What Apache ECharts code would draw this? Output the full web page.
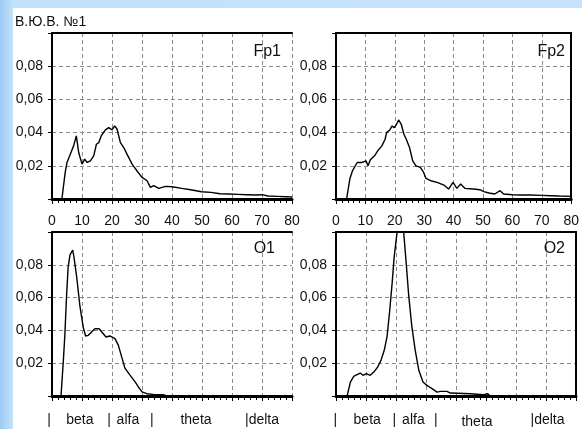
<!DOCTYPE html>
<html>
<head>
<meta charset="utf-8">
<script src="https://cdn.jsdelivr.net/npm/echarts@6/dist/echarts.min.js"></script>
<style>
  html, body { margin: 0; padding: 0; }
  #wrap { position: relative; width: 582px; height: 429px; overflow: hidden;
          background: linear-gradient(90deg, #9ccbf4 0px, #c3e1fa 13px, #c6e3fb 100%); }
  #panel { position: absolute; left: 13px; top: 8px; right: 0; bottom: 0; background: #ffffff; }
  #chart { position: absolute; left: 0; top: 0; width: 582px; height: 429px; }
</style>
</head>
<body>
<div id="wrap"><div id="panel"></div><div id="chart"></div></div>
<script>
// ---- data ----
const mainTitle = 'В.Ю.В. №1';
const channelNames = ['Fp1', 'Fp2', 'O1', 'O2'];
const xTickMin = 0, xTickMax = 80, xTickStep = 10;
const yTickMin = 0, yTickMax = 0.1, yTickStep = 0.02;

const fp1 = [[3.3,0],[4.4,0.016],[5,0.022],[6.1,0.027],[7.2,0.032],[8.1,0.038],[8.9,0.028],[10,0.021],[10.9,0.024],[11.7,0.022],[12.8,0.023],[13.9,0.026],[14.8,0.033],[15.6,0.034],[16.4,0.038],[17.8,0.0416],[18.9,0.043],[20,0.0416],[20.9,0.044],[21.7,0.042],[22.8,0.034],[23.9,0.031],[25,0.027],[26.7,0.021],[28.3,0.017],[30,0.013],[31.7,0.011],[32.8,0.007],[33.9,0.008],[35.6,0.0064],[37.8,0.0076],[40,0.0074],[43.3,0.0064],[46.7,0.0054],[49.8,0.0044],[53,0.004],[56,0.0032],[59,0.003],[62,0.0028],[65,0.0026],[68,0.0024],[70,0.0026],[72,0.0018],[75,0.0016],[78,0.0014],[80,0.0012]];

const fp2 = [[3.6,0],[4.7,0.012],[5.6,0.017],[7.2,0.022],[8.9,0.022],[10.2,0.023],[10.9,0.020],[11.7,0.0236],[13.1,0.026],[14.2,0.029],[15.6,0.032],[16.7,0.036],[17.2,0.040],[18.3,0.0416],[19.1,0.044],[19.8,0.043],[20.6,0.045],[21.3,0.0476],[22.2,0.045],[23.1,0.039],[23.9,0.036],[25,0.031],[26.1,0.023],[27.2,0.020],[28.7,0.019],[29.8,0.016],[30.6,0.0124],[32.2,0.011],[34.4,0.010],[36.7,0.0084],[38.3,0.006],[39.8,0.010],[41.1,0.0064],[42.4,0.009],[43.9,0.0064],[46.7,0.006],[48.9,0.0056],[50.3,0.0044],[52,0.0036],[54,0.003],[55.8,0.005],[57,0.003],[60,0.0026],[63,0.0024],[66,0.0024],[70,0.0022],[73,0.002],[76,0.0018],[80,0.0016]];

const o1 = [[3,0],[3.8,0.022],[4.3,0.038],[4.9,0.063],[5.4,0.079],[6,0.086],[6.9,0.089],[7.3,0.085],[8.2,0.073],[9.3,0.055],[10.4,0.042],[11.2,0.0366],[12.1,0.037],[13.2,0.039],[14.3,0.041],[15.7,0.041],[16.6,0.039],[18,0.036],[19.3,0.0366],[21,0.035],[22.1,0.031],[23.2,0.024],[24.3,0.017],[26,0.0127],[27.7,0.0086],[28.8,0.0055],[30,0.0025],[31.6,0.0014],[33.8,0.001],[37.1,0.0008],[38.2,0],[80,0]];

const o2 = [[3.7,0],[4.8,0.0085],[5.9,0.012],[7,0.013],[8.1,0.014],[9,0.0126],[10.1,0.0136],[11.4,0.0126],[12.6,0.0146],[13.9,0.0177],[15,0.0217],[16.1,0.028],[17,0.036],[17.9,0.052],[18.7,0.0685],[19.4,0.085],[20.3,0.099],[21.4,0.112],[22.6,0.099],[23.4,0.081],[24.2,0.062],[25.3,0.042],[26.4,0.028],[27.6,0.0157],[29,0.0085],[30.3,0.0065],[32,0.0045],[33.7,0.0024],[34.8,0.0028],[37,0.0028],[38.1,0.0018],[44.8,0.0014],[49.2,0.0008],[50.6,0.0014],[51.4,0],[80,0]];

// band annotations under the lower panels (text, position on the frequency axis, vertical offset)
const bandTextsO1 = [['|', -1, 0], ['beta', 9.3, 0], ['|', 19, 0], ['alfa', 25.3, 0], ['|', 33.3, 0], ['theta', 48, 0], ['|delta', 70, 0]];
const bandTextsO2 = [['|', -0.2, 0], ['beta', 10.4, 0], ['|', 19.4, 0], ['alfa', 25.8, 0], ['|', 33.3, 0], ['theta', 47, 2], ['|delta', 70.5, 0]];

// ---- layout ----
const FONT = '"Liberation Sans", Arial, sans-serif';
const panels = [
  { data: fp1, name: channelNames[0], grid: { left: 52, top: 33, width: 240, height: 166 }, xLabels: true,  rightBorder: false, nameRight: 301, nameTop: 44 },
  { data: fp2, name: channelNames[1], grid: { left: 336, top: 33, width: 240, height: 166 }, xLabels: true,  rightBorder: true,  nameRight: 17,  nameTop: 44 },
  { data: o1,  name: channelNames[2], grid: { left: 52, top: 232, width: 240, height: 164 }, xLabels: false, rightBorder: false, nameRight: 307, nameTop: 241 },
  { data: o2,  name: channelNames[3], grid: { left: 336, top: 232, width: 240, height: 164 }, xLabels: false, rightBorder: true,  nameRight: 17,  nameTop: 241 }
];

const dashStyle = { color: '#8a8a8a', width: 1, type: [4, 3] };
const grids = [], xAxes = [], yAxes = [], series = [], titles = [];

titles.push({ text: mainTitle, left: 15, top: 15, padding: 0,
  textStyle: { fontSize: 14, fontWeight: 'normal', color: '#111', fontFamily: FONT } });

panels.forEach((p, i) => {
  grids.push(Object.assign({ containLabel: false }, p.grid));
  xAxes.push({
    type: 'value', gridIndex: i, position: 'bottom',
    min: xTickMin, max: xTickMax, interval: xTickStep,
    axisLine: { show: true, onZero: false, lineStyle: { color: '#000', width: 3 } },
    axisTick: { show: true, inside: false, length: 5, lineStyle: { color: '#000', width: 1 } },
    minorTick: { show: true, splitNumber: 5, length: 4, lineStyle: { color: '#000', width: 1 } },
    splitLine: { show: true, lineStyle: dashStyle },
    axisLabel: { show: p.xLabels, margin: 15, fontSize: 14, color: '#111', fontFamily: FONT }
  });
  xAxes.push({
    type: 'value', gridIndex: i, position: 'top',
    min: xTickMin, max: xTickMax, interval: xTickStep,
    axisLine: { show: true, onZero: false, lineStyle: { color: '#000', width: 2 } },
    axisTick: { show: false }, axisLabel: { show: false }, splitLine: { show: false }
  });
  yAxes.push({
    type: 'value', gridIndex: i, position: 'left',
    min: yTickMin, max: yTickMax, interval: yTickStep,
    axisLine: { show: true, onZero: false, lineStyle: { color: '#000', width: 2 } },
    axisTick: { show: true, length: 4, lineStyle: { color: '#000', width: 1 } },
    splitLine: { show: true, lineStyle: dashStyle },
    axisLabel: {
      margin: 9, fontSize: 14, color: '#111', fontFamily: FONT,
      formatter: v => (v < 0.001 || v > 0.099) ? '' : v.toFixed(2).replace('.', ',')
    }
  });
  yAxes.push({
    type: 'value', gridIndex: i, position: 'right',
    min: yTickMin, max: yTickMax, interval: yTickStep,
    axisLine: { show: p.rightBorder, onZero: false, lineStyle: { color: '#000', width: 2 } },
    axisTick: { show: false }, axisLabel: { show: false }, splitLine: { show: false }
  });
  series.push({
    type: 'line', xAxisIndex: i * 2, yAxisIndex: i * 2, data: p.data,
    showSymbol: false, symbol: 'none', clip: true, animation: false,
    lineStyle: { color: '#000', width: 1.4 }, z: 5
  });
  titles.push({ text: p.name, right: p.nameRight, top: p.nameTop, padding: 0,
    textStyle: { fontSize: 16, fontWeight: 'normal', color: '#111', fontFamily: FONT } });
});

const chart = echarts.init(document.getElementById('chart'), null, { renderer: 'canvas' });
chart.setOption({
  backgroundColor: 'transparent',
  animation: false,
  title: titles,
  grid: grids,
  xAxis: xAxes,
  yAxis: yAxes,
  series: series
});

const graphics = [];
[[bandTextsO1, 2], [bandTextsO2, 3]].forEach(([list, gi]) => {
  list.forEach(([txt, xv, dy]) => {
    const px = chart.convertToPixel({ xAxisIndex: gi * 2 }, xv);
    graphics.push({
      type: 'text', x: px, y: 420 + dy,
      style: { text: txt, fill: '#111', font: '14px ' + FONT,
               textAlign: 'center', textVerticalAlign: 'middle' }
    });
  });
});
chart.setOption({ graphic: graphics });
</script>
</body>
</html>
